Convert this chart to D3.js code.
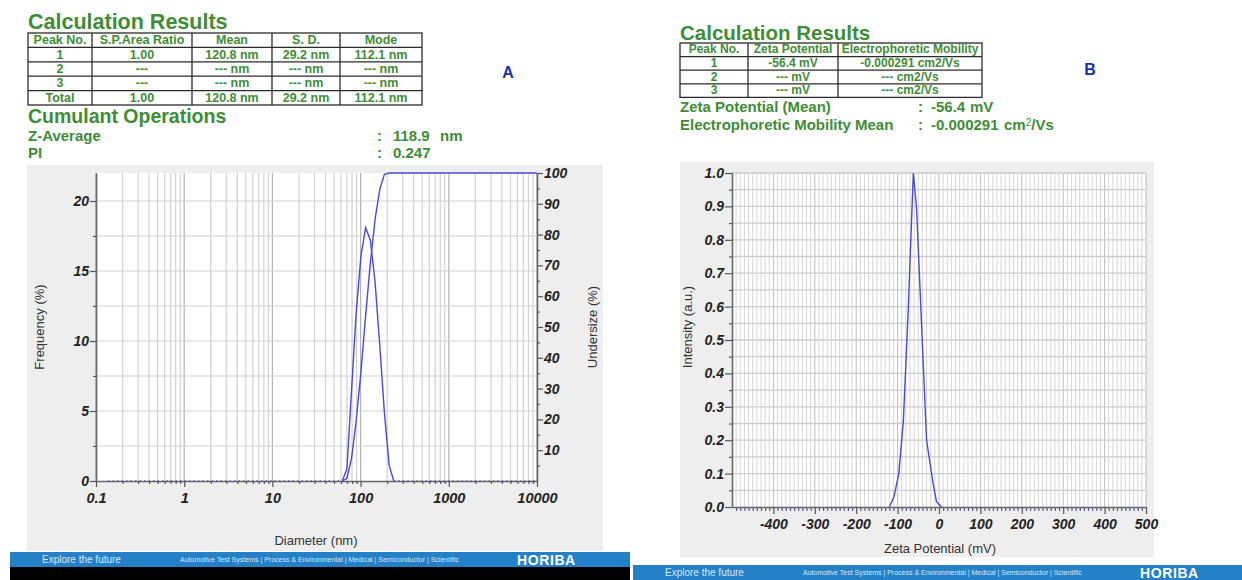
<!DOCTYPE html>
<html><head><meta charset="utf-8">
<script src="https://cdn.jsdelivr.net/npm/d3@7"></script>
<style>
html,body{margin:0;padding:0;background:#fff;}
svg{display:block;font-family:"Liberation Sans",Arial,sans-serif;}
</style></head>
<body>
<svg id="c" width="1242" height="580"></svg>
<script>
// ---------- Panel A data (DLS size distribution) ----------
const diamNm       = [55, 62, 70, 79, 89, 101, 114, 129, 146, 165, 186, 211, 238, 270];
const frequencyPct = [0, 0, 0.9, 6.5, 12.0, 16.1, 18.1, 17.2, 14.2, 9.7, 4.9, 1.1, 0, 0];
const undersizePct = [0, 0, 0.9, 7.4, 19.4, 35.5, 53.6, 70.8, 85.0, 94.7, 99.6, 100, 100, 100];
const diamTicks    = [0.1, 1, 10, 100, 1000, 10000];
const diamTickLbl  = ["0.1", "1", "10", "100", "1000", "10000"];
const freqTicks    = [0, 5, 10, 15, 20];
const undersizeTicks = [10, 20, 30, 40, 50, 60, 70, 80, 90, 100];

// ---------- Panel B data (zeta potential) ----------
const zetaMv    = [-120, -109, -97, -86, -75, -62, -54, -39, -30, -15, -6, 6];
const intensity = [0, 0.03, 0.10, 0.26, 0.57, 1.0, 0.89, 0.455, 0.20, 0.076, 0.016, 0];
const zetaTicks = [-400, -300, -200, -100, 0, 100, 200, 300, 400, 500];
const intensityTicks = [0, 0.1, 0.2, 0.3, 0.4, 0.5, 0.6, 0.7, 0.8, 0.9, 1.0];

// ---------- Table texts ----------
const tableAHead = ["Peak No.", "S.P.Area Ratio", "Mean", "S. D.", "Mode"];
const tableARows = [
  ["1", "1.00", "120.8 nm", "29.2 nm", "112.1 nm"],
  ["2", "---", "--- nm", "--- nm", "--- nm"],
  ["3", "---", "--- nm", "--- nm", "--- nm"],
  ["Total", "1.00", "120.8 nm", "29.2 nm", "112.1 nm"]
];
const tableBHead = ["Peak No.", "Zeta Potential", "Electrophoretic Mobility"];
const tableBRows = [
  ["1", "-56.4 mV", "-0.000291 cm2/Vs"],
  ["2", "--- mV", "--- cm2/Vs"],
  ["3", "--- mV", "--- cm2/Vs"]
];

const GREEN = "#3f8c37";
const LINE = "#4a4ad8";
const svg = d3.select("#c");

// ---------- helpers ----------
function table(x0, colW, y0, rowH, head, rows, fs) {
  const g = svg.append("g");
  const all = [head].concat(rows);
  const W = d3.sum(colW);
  const H = rowH * all.length;
  g.append("rect").attr("x", x0).attr("y", y0).attr("width", W).attr("height", H)
    .attr("fill", "#fff").attr("stroke", "#2a2a2a").attr("stroke-width", 1.3);
  all.forEach((r, i) => {
    if (i > 0) g.append("line").attr("x1", x0).attr("x2", x0 + W)
      .attr("y1", y0 + i * rowH).attr("y2", y0 + i * rowH).attr("stroke", "#2a2a2a").attr("stroke-width", 1.3);
    let cx = x0;
    r.forEach((t, j) => {
      g.append("text").attr("x", cx + colW[j] / 2).attr("y", y0 + i * rowH + rowH - 3.3)
        .attr("text-anchor", "middle").attr("font-size", fs).attr("font-weight", "bold")
        .attr("fill", GREEN).text(t);
      cx += colW[j];
    });
  });
  let cx = x0;
  colW.slice(0, -1).forEach(w => {
    cx += w;
    g.append("line").attr("x1", cx).attr("x2", cx).attr("y1", y0).attr("y2", y0 + H)
      .attr("stroke", "#2a2a2a").attr("stroke-width", 1.3);
  });
}
function gtext(x, y, t, size, anchor) {
  return svg.append("text").attr("x", x).attr("y", y).attr("font-size", size)
    .attr("font-weight", "bold").attr("fill", GREEN).attr("text-anchor", anchor || "start").text(t);
}

// ---------- Header A ----------
gtext(28, 29, "Calculation Results", 21.5);
table(28, [64, 100, 80, 68, 82], 33, 14.4, tableAHead, tableARows, 12.5);
gtext(28, 123, "Cumulant Operations", 19.5);
gtext(28, 141, "Z-Average", 15);
gtext(377, 141, ":", 15);
gtext(393, 141, "118.9", 15);
gtext(440, 141, "nm", 15);
gtext(28, 158, "PI", 15);
gtext(377, 158, ":", 15);
gtext(393, 158, "0.247", 15);
svg.append("text").attr("x", 508).attr("y", 78).attr("font-size", 16).attr("font-weight", "bold")
  .attr("fill", "#1c2fa8").attr("text-anchor", "middle").text("A");

// ---------- Header B ----------
gtext(680, 40, "Calculation Results", 20.5);
table(680, [68, 90, 144], 43, 13.6, tableBHead, tableBRows, 12);
gtext(680, 112, "Zeta Potential (Mean)", 15);
gtext(918, 112, ":", 15);
gtext(931, 112, "-56.4", 15);
gtext(970, 112, "mV", 15);
gtext(680, 130, "Electrophoretic Mobility Mean", 15);
gtext(918, 130, ":", 15);
gtext(931, 130, "-0.000291", 15);
const em = gtext(1004, 130, "cm", 15);
em.append("tspan").attr("font-size", 10).attr("dy", -4).attr("font-weight", "normal").text("2");
em.append("tspan").attr("dy", 4).text("/Vs");
svg.append("text").attr("x", 1090).attr("y", 75).attr("font-size", 16).attr("font-weight", "bold")
  .attr("fill", "#1c2fa8").attr("text-anchor", "middle").text("B");

// ---------- Panel backgrounds ----------
svg.append("rect").attr("x", 27).attr("y", 165).attr("width", 576).attr("height", 386).attr("fill", "#eeeeee");
svg.append("rect").attr("x", 680).attr("y", 162).attr("width", 474).attr("height", 395).attr("fill", "#eeeeee");

// ---------- Chart A ----------
const xA = d3.scaleLog().domain([0.1, 10000]).range([96, 537]);
const yA = d3.scaleLinear().domain([0, 22]).range([481, 173]);
const yA2 = d3.scaleLinear().domain([0, 100]).range([481, 173]);
const gA = svg.append("g");
gA.append("rect").attr("x", 96).attr("y", 173).attr("width", 441).attr("height", 308).attr("fill", "#fff");
// grid
const logMinor = xA.ticks();
gA.selectAll(".vgA").data(logMinor).join("line")
  .attr("x1", d => xA(d)).attr("x2", d => xA(d)).attr("y1", 173).attr("y2", 481)
  .attr("stroke", d => diamTicks.includes(d) ? "#b4b4b4" : "#d2d2d2").attr("stroke-width", 1.2);
const freqMinor = d3.range(2.5, 21, 2.5);
gA.selectAll(".hgA").data(freqMinor).join("line")
  .attr("x1", 96).attr("x2", 537).attr("y1", d => yA(d)).attr("y2", d => yA(d))
  .attr("stroke", "#d2d2d2").attr("stroke-width", 1.2);

function styleAxis(g, size) {
  g.select(".domain").attr("stroke", "#666").attr("stroke-width", 1.3);
  g.selectAll(".tick line").attr("stroke", "#555").attr("stroke-width", 1.2);
  g.selectAll(".tick text").attr("font-size", size || 14).attr("font-weight", "bold")
    .attr("font-style", "italic").attr("fill", "#222").attr("font-family", '"Liberation Sans",Arial,sans-serif');
}
// left axis
const axL = gA.append("g").attr("transform", "translate(96,0)")
  .call(d3.axisLeft(yA).tickValues(freqTicks).tickSize(6).tickPadding(1).tickSizeOuter(0));
styleAxis(axL);
const axLm = gA.append("g").attr("transform", "translate(96,0)")
  .call(d3.axisLeft(yA).tickValues(d3.range(2.5, 21, 5)).tickSize(3).tickFormat("").tickSizeOuter(0));
styleAxis(axLm);
// right axis
const axR = gA.append("g").attr("transform", "translate(537,0)")
  .call(d3.axisRight(yA2).tickValues(undersizeTicks).tickSize(6).tickPadding(1).tickSizeOuter(0));
styleAxis(axR);
const axRm = gA.append("g").attr("transform", "translate(537,0)")
  .call(d3.axisRight(yA2).tickValues(d3.range(5, 100, 10)).tickSize(3).tickFormat("").tickSizeOuter(0));
styleAxis(axRm);
// bottom axis
const axB = gA.append("g").attr("transform", "translate(0,481)")
  .call(d3.axisBottom(xA).tickValues(diamTicks).tickSize(6).tickPadding(6).tickSizeOuter(0)
    .tickFormat((d, i) => diamTickLbl[i]));
styleAxis(axB, 14.5);
const axBm = gA.append("g").attr("transform", "translate(0,481)")
  .call(d3.axisBottom(xA).tickValues(logMinor.filter(d => !diamTicks.includes(d))).tickSize(3).tickFormat("").tickSizeOuter(0));
styleAxis(axBm);
axBm.select(".domain").remove();
// zero baseline dotted markers
gA.append("line").attr("x1", xA(0.1) + 12).attr("x2", xA(diamNm[1])).attr("y1", yA(0) - 0.5).attr("y2", yA(0) - 0.5)
  .attr("stroke", LINE).attr("stroke-width", 1).attr("stroke-dasharray", "1.5,3").attr("opacity", 0.7);
gA.append("line").attr("x1", xA(diamNm[12])).attr("x2", xA(10000)).attr("y1", yA(0) - 0.5).attr("y2", yA(0) - 0.5)
  .attr("stroke", LINE).attr("stroke-width", 1).attr("stroke-dasharray", "1.5,3").attr("opacity", 0.7);
// curves
gA.append("path").datum(frequencyPct.slice(1, 13))
  .attr("d", d3.line().x((d, i) => xA(diamNm[i + 1])).y(d => yA(d)))
  .attr("fill", "none").attr("stroke", LINE).attr("stroke-width", 1.4);
const undPts = undersizePct.map((v, i) => [diamNm[i], v]).slice(1);
undPts.push([10000, 100]);
gA.append("path").datum(undPts)
  .attr("d", d3.line().x(d => xA(d[0])).y(d => yA2(d[1])))
  .attr("fill", "none").attr("stroke", LINE).attr("stroke-width", 1.4);
// labels
gA.append("text").attr("transform", "translate(44,327) rotate(-90)").attr("text-anchor", "middle")
  .attr("font-size", 13).attr("fill", "#333").text("Frequency (%)");
gA.append("text").attr("transform", "translate(597,327) rotate(-90)").attr("text-anchor", "middle")
  .attr("font-size", 13).attr("fill", "#333").text("Undersize (%)");
gA.append("text").attr("x", 316).attr("y", 545).attr("text-anchor", "middle")
  .attr("font-size", 13).attr("fill", "#333").text("Diameter (nm)");

// ---------- Chart B ----------
const xB = d3.scaleLinear().domain([-500, 500]).range([732, 1146]);
const yB = d3.scaleLinear().domain([0, 1]).range([507, 173]);
const gB = svg.append("g");
gB.append("rect").attr("x", 732).attr("y", 173).attr("width", 414).attr("height", 334).attr("fill", "#fff");
const zMinor = d3.range(-490, 501, 10);
gB.selectAll(".vgB").data(zMinor).join("line")
  .attr("x1", d => xB(d)).attr("x2", d => xB(d)).attr("y1", 173).attr("y2", 507)
  .attr("stroke", d => d % 100 === 0 ? "#bdbdbd" : "#d6d6d6").attr("stroke-width", 1);
const iMinor = d3.range(0.05, 1.001, 0.05);
gB.selectAll(".hgB").data(iMinor).join("line")
  .attr("x1", 732).attr("x2", 1146).attr("y1", d => yB(d)).attr("y2", d => yB(d))
  .attr("stroke", "#cdcdcd").attr("stroke-width", 1.3);
const bL = gB.append("g").attr("transform", "translate(732,0)")
  .call(d3.axisLeft(yB).tickValues(intensityTicks).tickSize(7).tickPadding(1).tickSizeOuter(0).tickFormat(d3.format(".1f")));
styleAxis(bL);
const bLm = gB.append("g").attr("transform", "translate(732,0)")
  .call(d3.axisLeft(yB).tickValues(d3.range(0.05, 1, 0.1)).tickSize(3).tickFormat("").tickSizeOuter(0));
styleAxis(bLm);
const bB = gB.append("g").attr("transform", "translate(0,507)")
  .call(d3.axisBottom(xB).tickValues(zetaTicks).tickSize(7).tickPadding(5).tickSizeOuter(0)
    .tickFormat(d => String(d)));
styleAxis(bB);
const bBm = gB.append("g").attr("transform", "translate(0,507)")
  .call(d3.axisBottom(xB).tickValues(zMinor.filter(d => d % 100 !== 0)).tickSize(4).tickFormat("").tickSizeOuter(0));
styleAxis(bBm);
bBm.select(".domain").remove();
bBm.selectAll(".tick line").attr("stroke", "#5a5a8a");
gB.append("path").datum(zetaMv.map((v, i) => [v, intensity[i]]))
  .attr("d", d3.line().x(d => xB(d[0])).y(d => yB(d[1])))
  .attr("fill", "none").attr("stroke", LINE).attr("stroke-width", 1.4);
gB.append("text").attr("transform", "translate(692,327) rotate(-90)").attr("text-anchor", "middle")
  .attr("font-size", 13).attr("fill", "#333").text("Intensity (a.u.)");
gB.append("text").attr("x", 940).attr("y", 553).attr("text-anchor", "middle")
  .attr("font-size", 13).attr("fill", "#333").text("Zeta Potential (mV)");

// ---------- Footers ----------
function footer(x, y, w, h, logoX) {
  svg.append("rect").attr("x", x).attr("y", y).attr("width", w).attr("height", h).attr("fill", "#2481c7");
  svg.append("text").attr("x", x + 32).attr("y", y + h / 2 + 3.5).attr("font-size", 10).attr("fill", "#d8e8f6").text("Explore the future");
  svg.append("text").attr("x", x + 170).attr("y", y + h / 2 + 2.5).attr("font-size", 7).attr("fill", "#d8e8f6")
    .text("Automotive Test Systems  |  Process & Environmental  |  Medical  |  Semiconductor  |  Scientific");
  svg.append("text").attr("x", logoX).attr("y", y + h / 2 + 5).attr("font-size", 14).attr("font-weight", "bold")
    .attr("fill", "#fff").attr("letter-spacing", 0.6).text("HORIBA");
}
svg.append("rect").attr("x", 10).attr("y", 566).attr("width", 620).attr("height", 14).attr("fill", "#000");
footer(10, 552, 620, 15, 517);
footer(633, 565, 609, 15, 1140);
</script>
</body></html>
